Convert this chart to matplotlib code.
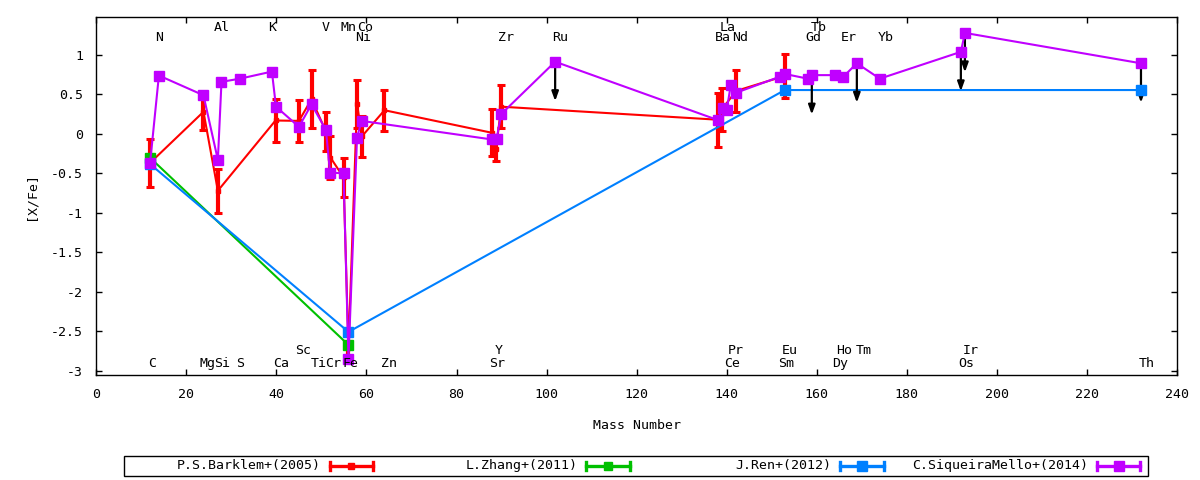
import matplotlib
matplotlib.use('Agg')
import matplotlib.pyplot as plt
from matplotlib.lines import Line2D
from matplotlib.patches import Rectangle

plt.rcParams['font.family'] = ['DejaVu Sans Mono', 'DejaVu Sans']
plt.rcParams['font.size'] = 9.5
plt.rcParams['axes.unicode_minus'] = False

# ---------------- data ----------------
# P.S.Barklem+(2005)
barklem_x = [11.9, 23.8, 27.0, 39.8, 45.0, 47.8, 51.0, 52.0, 54.9, 56.0, 57.9, 59.0, 64.0,
             87.8, 88.8, 89.9, 138.0, 138.9, 142.1, 152.9]
barklem_y = [-0.37, 0.28, -0.72, 0.17, 0.165, 0.44, 0.03, -0.30, -0.55, -2.72, 0.38, -0.03, 0.30,
             0.015, -0.19, 0.345, 0.18, 0.31, 0.545, 0.735]
barklem_err = [0.30, 0.23, 0.28, 0.27, 0.265, 0.37, 0.25, 0.27, 0.25, 0.10, 0.30, 0.26, 0.26,
               0.30, 0.15, 0.27, 0.34, 0.27, 0.265, 0.275]

# L.Zhang+(2011)
zhang_x = [11.9, 56.0]
zhang_y = [-0.30, -2.675]

# J.Ren+(2012)
ren_x = [11.9, 56.0, 152.9, 232.0]
ren_y = [-0.38, -2.51, 0.556, 0.556]

# C.SiqueiraMello+(2014)
mello_x = [11.95, 13.9, 23.8, 27.0, 27.8, 31.9, 39.0, 39.9, 45.0, 47.8, 51.0, 51.9, 54.9, 56.0,
           57.9, 58.9, 87.8, 88.9, 89.9, 101.9, 138.0, 139.1, 140.0, 140.9, 142.0, 151.8, 152.9,
           158.0, 158.9, 164.0, 165.9, 168.9, 174.0, 192.0, 192.9, 232.0]
mello_y = [-0.365, 0.74, 0.49, -0.33, 0.66, 0.70, 0.79, 0.345, 0.09, 0.375, 0.05, -0.49, -0.50, -2.85,
           -0.05, 0.165, -0.07, -0.065, 0.25, 0.915, 0.176, 0.325, 0.30, 0.62, 0.52, 0.725, 0.76,
           0.70, 0.745, 0.745, 0.725, 0.895, 0.70, 1.04, 1.28, 0.895]
mello_upper_limit = [False, False, False, False, False, False, False, False, False, False, False, False,
                     False, False, False, False, False, False, False, True, False, False, False, False,
                     False, False, False, False, True, False, False, True, False, True, True, True]
limit_arrow_len = 0.5

# element labels
elem_top1 = ['N', 'Ni', 'Zr', 'Ru', 'Ba', 'Nd', 'Gd', 'Er', 'Yb']
elem_top1_x = [14.0, 59.2, 91.0, 102.9, 139.1, 142.9, 159.2, 167.2, 175.2]
elem_top2 = ['Al', 'K', 'V', 'Mn', 'Co', 'La', 'Tb']
elem_top2_x = [27.9, 39.1, 51.0, 56.1, 59.8, 140.3, 160.4]
elem_bot1 = ['C', 'Mg', 'Si', 'S', 'Ca', 'Ti', 'Cr', 'Fe', 'Zn', 'Sr', 'Ce', 'Sm', 'Dy', 'Os', 'Th']
elem_bot1_x = [12.3, 24.8, 28.0, 32.0, 41.1, 49.3, 52.5, 56.5, 65.1, 89.0, 141.1, 153.1, 165.1, 193.3, 233.3]
elem_bot2 = ['Sc', 'Y', 'Pr', 'Eu', 'Ho', 'Tm', 'Ir']
elem_bot2_x = [45.9, 89.4, 142.1, 154.1, 166.1, 170.4, 194.1]
row_y = [1.225, 1.35, -2.907, -2.74]

x_ticks = [0, 20, 40, 60, 80, 100, 120, 140, 160, 180, 200, 220, 240]
y_ticks = [-3, -2.5, -2, -1.5, -1, -0.5, 0, 0.5, 1]

series_names = ['P.S.Barklem+(2005)', 'L.Zhang+(2011)', 'J.Ren+(2012)', 'C.SiqueiraMello+(2014)']

# ---------------- figure ----------------
RED = '#ff0000'
GREEN = '#00c000'
BLUE = '#0080ff'
PURPLE = '#c000ff'

W, H = 1200, 480
fig = plt.figure(figsize=(12, 4.8), dpi=100)
L, R, T, B = 96.3, 1177.0, 17.3, 375.0
ax = fig.add_axes([L / W, 1 - B / H, (R - L) / W, (B - T) / H])

ax.errorbar(barklem_x, barklem_y, yerr=barklem_err, color=RED, lw=1.5, elinewidth=3,
            capsize=2.6, capthick=2.2, marker='s', ms=3, zorder=2)
ax.plot(zhang_x, zhang_y, color=GREEN, lw=1.5, marker='s', ms=6.8, zorder=3)
ax.plot(ren_x, ren_y, color=BLUE, lw=1.5, zorder=3)
ax.plot(ren_x, ren_y, color=BLUE, lw=0, marker='s', ms=7.2, zorder=4.5)
ax.plot(mello_x, mello_y, color=PURPLE, lw=1.5, marker='s', ms=7.2, zorder=5)

for xv, yv, ul in zip(mello_x, mello_y, mello_upper_limit):
    if ul:
        ax.annotate('', xy=(xv, yv - limit_arrow_len), xytext=(xv, yv),
                    arrowprops=dict(arrowstyle='-|>,head_length=0.5,head_width=0.18',
                                    mutation_scale=11, color='black', lw=1.6,
                                    shrinkA=0, shrinkB=0), zorder=4)

for names, xs, yv in [(elem_top1, elem_top1_x, row_y[0]), (elem_top2, elem_top2_x, row_y[1]),
                      (elem_bot1, elem_bot1_x, row_y[2]), (elem_bot2, elem_bot2_x, row_y[3])]:
    for n, xv in zip(names, xs):
        ax.text(xv, yv, n, ha='center', va='center', fontsize=9.5, zorder=6)

ax.set_xlim(0, 240)
ax.set_ylim(-3.056, 1.478)
ax.set_xticks(x_ticks)
ax.set_yticks(y_ticks)
ax.set_yticklabels([f'{v:g}' for v in y_ticks])
ax.tick_params(direction='in', length=4, width=1, top=True, right=True, labelsize=9.5)
ax.tick_params(axis='x', pad=9.5)
ax.tick_params(axis='y', pad=9.5)
for s in ax.spines.values():
    s.set_linewidth(1)
ax.set_xlabel('Mass Number', fontsize=9.5, labelpad=12.5)
ax.set_ylabel('[X/Fe]', fontsize=9.5, labelpad=10)

# ---------------- legend (gnuplot style) ----------------
def fx(px):
    return px / W

def fy(py):
    return 1 - py / H

fig.add_artist(Rectangle((fx(124), fy(475.7)), fx(1148) - fx(124), fy(455.7) - fy(475.7),
                         transform=fig.transFigure, fill=False, lw=1, ec='black'))
text_right = [321.2, 577.6, 831.7, 1088.3]
colors = [RED, GREEN, BLUE, PURPLE]
msizes = [4.5, 6, 7, 7]
ly = 465.7
for name, tr, c, ms in zip(series_names, text_right, colors, msizes):
    fig.text(fx(tr), fy(ly), name, ha='right', va='center', fontsize=9.5)
    x0, x1 = tr + 8.5, tr + 52
    fig.add_artist(Line2D([fx(x0), fx(x1)], [fy(ly), fy(ly)], transform=fig.transFigure,
                          color=c, lw=2.4))
    for xe in (x0, x1):
        fig.add_artist(Line2D([fx(xe), fx(xe)], [fy(ly - 4), fy(ly + 4)],
                              transform=fig.transFigure, color=c, lw=2.4))
    fig.add_artist(Line2D([fx((x0 + x1) / 2)], [fy(ly)], transform=fig.transFigure,
                          color=c, marker='s', ms=ms, lw=0))

fig.savefig('out.png', dpi=100)
